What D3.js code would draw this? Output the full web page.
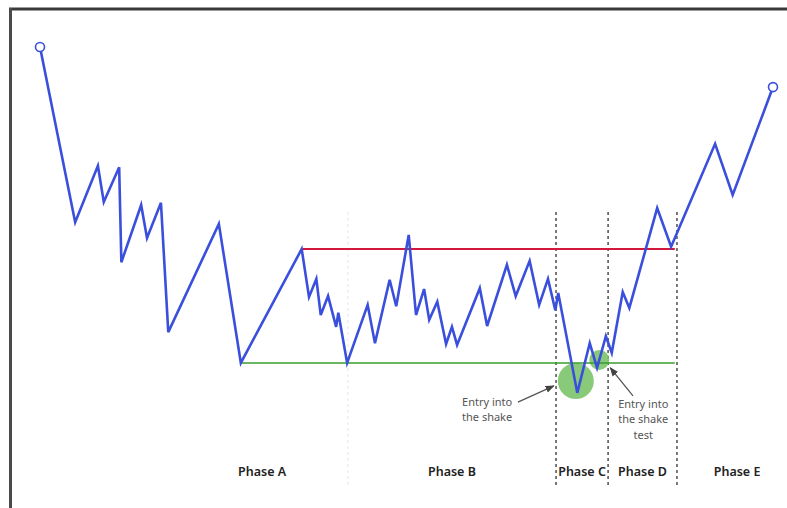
<!DOCTYPE html>
<html>
<head>
<meta charset="utf-8">
<script src="https://cdn.jsdelivr.net/npm/d3@7"></script>
<style>
  body { margin: 0; background: #fff; }
  svg { display: block; font-family: "Noto Sans", "Open Sans", sans-serif; }
</style>
</head>
<body>
<svg id="chart" width="787" height="508"></svg>
<script>
/* price path (time step, price) */
const times = [0, 4.8, 7.9, 8.7, 10.8, 11.1, 13.8, 14.6, 16.5, 17.5, 24.4, 27.4,
  35.7, 36.7, 37.7, 38.3, 39.3, 40.4, 40.7, 41.9, 44.7, 45.7, 47.7, 48.6, 50.3,
  51.3, 52.4, 53.1, 54.2, 55.4, 56.2, 56.9, 60.0, 61.0, 63.7, 64.9, 66.8, 68.1,
  69.3, 70.3, 70.7, 73.3, 75.0, 76.0, 77.2, 78.0, 79.5, 80.4, 84.2, 86.1, 92.1,
  94.5, 100];
const prices = [98.4, 58.6, 71.4, 63.2, 71.1, 49.5, 62.5, 55.0, 63.0, 33.6, 58.2, 26.6,
  52.5, 41.6, 45.7, 37.5, 41.8, 34.8, 38.0, 26.6, 39.8, 31.1, 45.5, 39.5, 55.7,
  37.5, 43.4, 36.4, 40.5, 30.9, 34.8, 30.7, 43.6, 35.0, 48.9, 41.8, 49.8, 39.8,
  45.7, 38.6, 42.5, 19.8, 31.1, 25.5, 32.7, 28.9, 42.7, 39.1, 61.8, 53.0, 76.4,
  64.8, 89.3];

/* support / resistance levels */
const support = { level: 26.6, from: 27.4, to: 86.6 };
const resistance = { level: 52.5, from: 35.7, to: 86.6 };

/* phases: boundaries in time steps */
const phaseNames = ["Phase A", "Phase B", "Phase C", "Phase D", "Phase E"];
const phaseBounds = [18.6, 42.0, 70.4, 77.5, 86.9, 103.3];
const dividerTop = 60.9, dividerBottom = -1.8;

/* shakeout markers: [time, price] */
const shakeMarks = [[73.1, 22.5], [76.3, 27.3]];

const annotations = [
  { lines: ["Entry into", "the shake"], t: 61.0, p: 16.9, from: [65.2, 17.7], to: [70.1, 21.4] },
  { lines: ["Entry into", "the shake", "test"], t: 82.3, p: 16.4, from: [80.9, 19.1], to: [77.8, 25.5] }
];

const svg = d3.select("#chart");

const x = d3.scaleLinear().domain([0, 100]).range([40, 773]);
const y = d3.scaleLinear().domain([0, 100]).range([480, 40]);

const blue = "#3a4fdc";

/* frame */
svg.append("line").attr("x1", 9).attr("x2", 787).attr("y1", 9).attr("y2", 9)
  .attr("stroke", "#3a3a3a").attr("stroke-width", 3);
svg.append("line").attr("x1", 10.5).attr("x2", 10.5).attr("y1", 8).attr("y2", 508)
  .attr("stroke", "#4a4a4a").attr("stroke-width", 3);

svg.append("defs").append("marker")
  .attr("id", "arrow")
  .attr("viewBox", "0 0 10 10")
  .attr("refX", 9).attr("refY", 5)
  .attr("markerWidth", 7).attr("markerHeight", 7)
  .attr("orient", "auto")
  .append("path")
  .attr("d", "M0,1 L10,5 L0,9 Z")
  .attr("fill", "#444");

/* phase dividers */
phaseBounds.slice(1, -1).forEach((b, i) => {
  svg.append("line")
    .attr("x1", x(b)).attr("x2", x(b))
    .attr("y1", y(dividerTop)).attr("y2", y(dividerBottom))
    .attr("stroke", i === 0 ? "#e6e6e6" : "#222")
    .attr("stroke-width", i === 0 ? 1 : 1.2)
    .attr("stroke-dasharray", "3,3");
});

/* shake markers */
svg.selectAll(".shake").data(shakeMarks).enter()
  .append("circle")
  .attr("class", "shake")
  .attr("cx", d => x(d[0]))
  .attr("cy", d => y(d[1]))
  .attr("r", (d, i) => i === 0 ? 18 : 10)
  .attr("fill", "#7cc46c")
  .attr("opacity", 0.9);

/* levels */
svg.append("line")
  .attr("x1", x(resistance.from)).attr("x2", x(resistance.to))
  .attr("y1", y(resistance.level)).attr("y2", y(resistance.level))
  .attr("stroke", "#d3173d").attr("stroke-width", 2);
svg.append("line")
  .attr("x1", x(support.from)).attr("x2", x(support.to))
  .attr("y1", y(support.level)).attr("y2", y(support.level))
  .attr("stroke", "#3a9e2c").attr("stroke-width", 1.6);

/* price path */
const pts = times.map((t, i) => [t, prices[i]]);
svg.append("path")
  .datum(pts)
  .attr("fill", "none")
  .attr("stroke", blue)
  .attr("stroke-width", 2.6)
  .attr("stroke-linejoin", "miter")
  .attr("d", d3.line().x(d => x(d[0])).y(d => y(d[1])));

svg.selectAll(".endpoint").data([pts[0], pts[pts.length - 1]]).enter()
  .append("circle")
  .attr("class", "endpoint")
  .attr("cx", d => x(d[0]))
  .attr("cy", d => y(d[1]))
  .attr("r", 4.5)
  .attr("fill", "#fff")
  .attr("stroke", blue)
  .attr("stroke-width", 1.6);

/* annotations */
annotations.forEach(a => {
  svg.append("line")
    .attr("x1", x(a.from[0])).attr("y1", y(a.from[1]))
    .attr("x2", x(a.to[0])).attr("y2", y(a.to[1]))
    .attr("stroke", "#555").attr("stroke-width", 1.3)
    .attr("marker-end", "url(#arrow)");
  const txt = svg.append("text")
    .attr("x", x(a.t)).attr("y", y(a.p))
    .attr("text-anchor", "middle")
    .style("font-size", "11px")
    .style("fill", "#555");
  a.lines.forEach((l, i) => {
    txt.append("tspan").attr("x", x(a.t)).attr("dy", i === 0 ? 0 : 15.5).text(l);
  });
});

/* phase labels */
svg.selectAll(".phase").data(phaseNames).enter()
  .append("text")
  .attr("class", "phase")
  .attr("x", (d, i) => x((phaseBounds[i] + phaseBounds[i + 1]) / 2))
  .attr("y", y(dividerBottom) - 12)
  .attr("text-anchor", "middle")
  .style("font-size", "12.5px")
  .style("font-weight", "600")
  .style("fill", "#222")
  .text(d => d);
</script>
</body>
</html>
